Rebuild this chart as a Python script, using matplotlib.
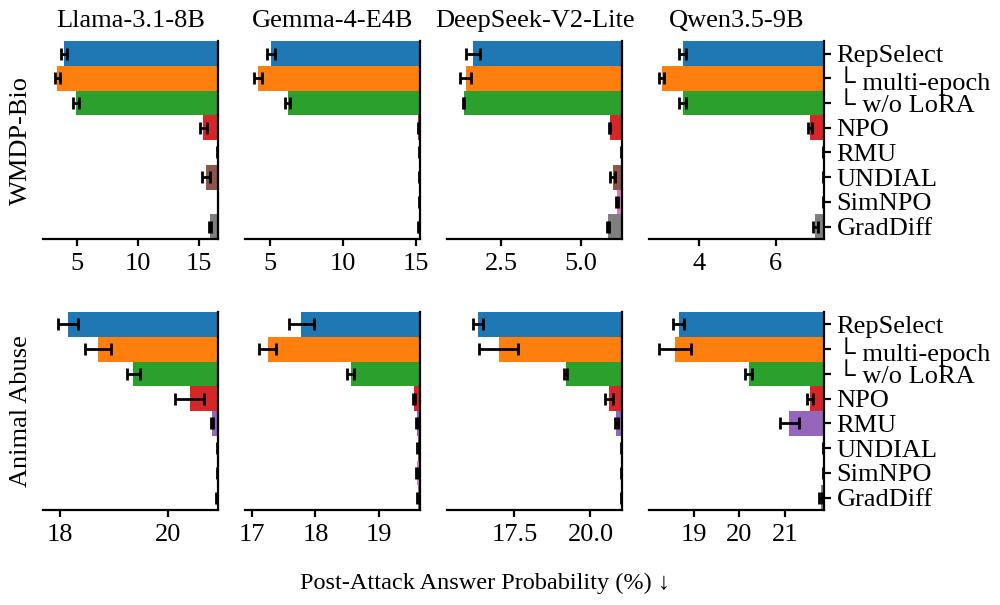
import matplotlib
matplotlib.use("Agg")
import matplotlib.pyplot as plt
import numpy as np

plt.rcParams["font.family"] = ["Liberation Serif", "DejaVu Serif", "DejaVu Sans"]
plt.rcParams["font.size"] = 19

models = ["Llama-3.1-8B", "Gemma-4-E4B", "DeepSeek-V2-Lite", "Qwen3.5-9B"]
datasets = ["WMDP-Bio", "Animal Abuse"]
methods = ["RepSelect", "└ multi-epoch", "└ w/o LoRA", "NPO", "RMU", "UNDIAL", "SimNPO", "GradDiff"]

# post-attack answer probability (%) per dataset -> model
wmdp_llama = [3.96, 3.41, 4.97, 15.35, 16.52, 15.57, 16.55, 15.90]
wmdp_llama_err = [0.23, 0.20, 0.25, 0.30, 0.02, 0.32, 0.02, 0.07]
wmdp_gemma = [5.05, 4.18, 6.19, 15.18, 15.25, 15.27, 15.27, 15.20]
wmdp_gemma_err = [0.27, 0.28, 0.19, 0.04, 0.03, 0.03, 0.03, 0.04]
wmdp_deepseek = [1.60, 1.38, 1.32, 5.89, 6.27, 5.99, 6.13, 5.83]
wmdp_deepseek_err = [0.22, 0.18, 0.01, 0.02, 0.01, 0.08, 0.035, 0.035]
wmdp_qwen = [3.56, 3.01, 3.56, 6.90, 7.25, 7.25, 7.25, 7.03]
wmdp_qwen_err = [0.09, 0.07, 0.09, 0.05, 0.01, 0.01, 0.01, 0.07]

abuse_llama = [18.15, 18.70, 19.35, 20.39, 20.80, 20.90, 20.90, 20.89]
abuse_llama_err = [0.18, 0.24, 0.12, 0.27, 0.02, 0.01, 0.01, 0.02]
abuse_gemma = [17.78, 17.25, 18.55, 19.54, 19.59, 19.61, 19.59, 19.61]
abuse_gemma_err = [0.19, 0.13, 0.06, 0.02, 0.02, 0.02, 0.02, 0.02]
abuse_deepseek = [16.30, 16.98, 19.19, 20.61, 20.85, 21.02, 21.03, 21.02]
abuse_deepseek_err = [0.16, 0.65, 0.05, 0.12, 0.04, 0.01, 0.01, 0.01]
abuse_qwen = [18.67, 18.58, 20.20, 21.55, 21.09, 21.84, 21.84, 21.78]
abuse_qwen_err = [0.12, 0.35, 0.07, 0.07, 0.21, 0.01, 0.01, 0.03]

values = [[wmdp_llama, wmdp_gemma, wmdp_deepseek, wmdp_qwen],
          [abuse_llama, abuse_gemma, abuse_deepseek, abuse_qwen]]
errors = [[wmdp_llama_err, wmdp_gemma_err, wmdp_deepseek_err, wmdp_qwen_err],
          [abuse_llama_err, abuse_gemma_err, abuse_deepseek_err, abuse_qwen_err]]

# axis limits and ticks per panel
xlims = [[(2.26, 16.58), (3.28, 15.30), (0.80, 6.28), (2.68, 7.26)],
         [(17.69, 20.92), (16.90, 19.64), (15.29, 21.04), (18.02, 21.85)]]
xticks = [[[5, 10, 15], [5, 10, 15], [2.5, 5.0], [4, 6]],
          [[18, 20], [17, 18, 19], [17.5, 20.0], [19, 20, 21]]]
xticklabels = [[None, None, ["2.5", "5.0"], None],
               [None, None, ["17.5", "20.0"], None]]

colors = plt.rcParams["axes.prop_cycle"].by_key()["color"][:8]

fig, axes = plt.subplots(2, 4, figsize=(10, 6.05), dpi=100)
fig.subplots_adjust(left=0.0433, right=0.824, bottom=0.157, top=0.932,
                    wspace=0.154, hspace=0.369)

y = np.arange(len(methods))
for r in range(2):
    for c in range(4):
        ax = axes[r, c]
        lo, hi = xlims[r][c]
        vals = np.array(values[r][c])
        errs = np.array(errors[r][c])
        ax.barh(y, hi - vals, left=vals, height=1.0, color=colors)
        ax.errorbar(vals, y, xerr=errs, fmt="none", ecolor="black",
                    elinewidth=2, capsize=4.5, capthick=2)
        ax.set_xlim(lo, hi)
        ax.set_ylim(len(methods) - 0.5, -0.5)
        ax.set_xticks(xticks[r][c])
        if xticklabels[r][c] is not None:
            ax.set_xticklabels(xticklabels[r][c])
        for s in ["top", "left"]:
            ax.spines[s].set_visible(False)
        for s in ["bottom", "right"]:
            ax.spines[s].set_linewidth(1.6)
        ax.tick_params(axis="x", length=5, width=1.6, pad=5)
        if c == 3:
            ax.yaxis.tick_right()
            ax.set_yticks(y)
            ax.set_yticklabels(methods)
            ax.tick_params(axis="y", length=5, width=1.6, pad=4)
        else:
            ax.set_yticks([])
        if r == 0:
            ax.set_title(models[c], fontsize=19, pad=10)
        if c == 0:
            ax.set_ylabel(datasets[r], labelpad=8)

fig.text(0.4855, 0.036, "Post-Attack Answer Probability (%) ↓", ha="center", va="center",
         fontsize=17.5)

fig.savefig("out.png", dpi=100)
